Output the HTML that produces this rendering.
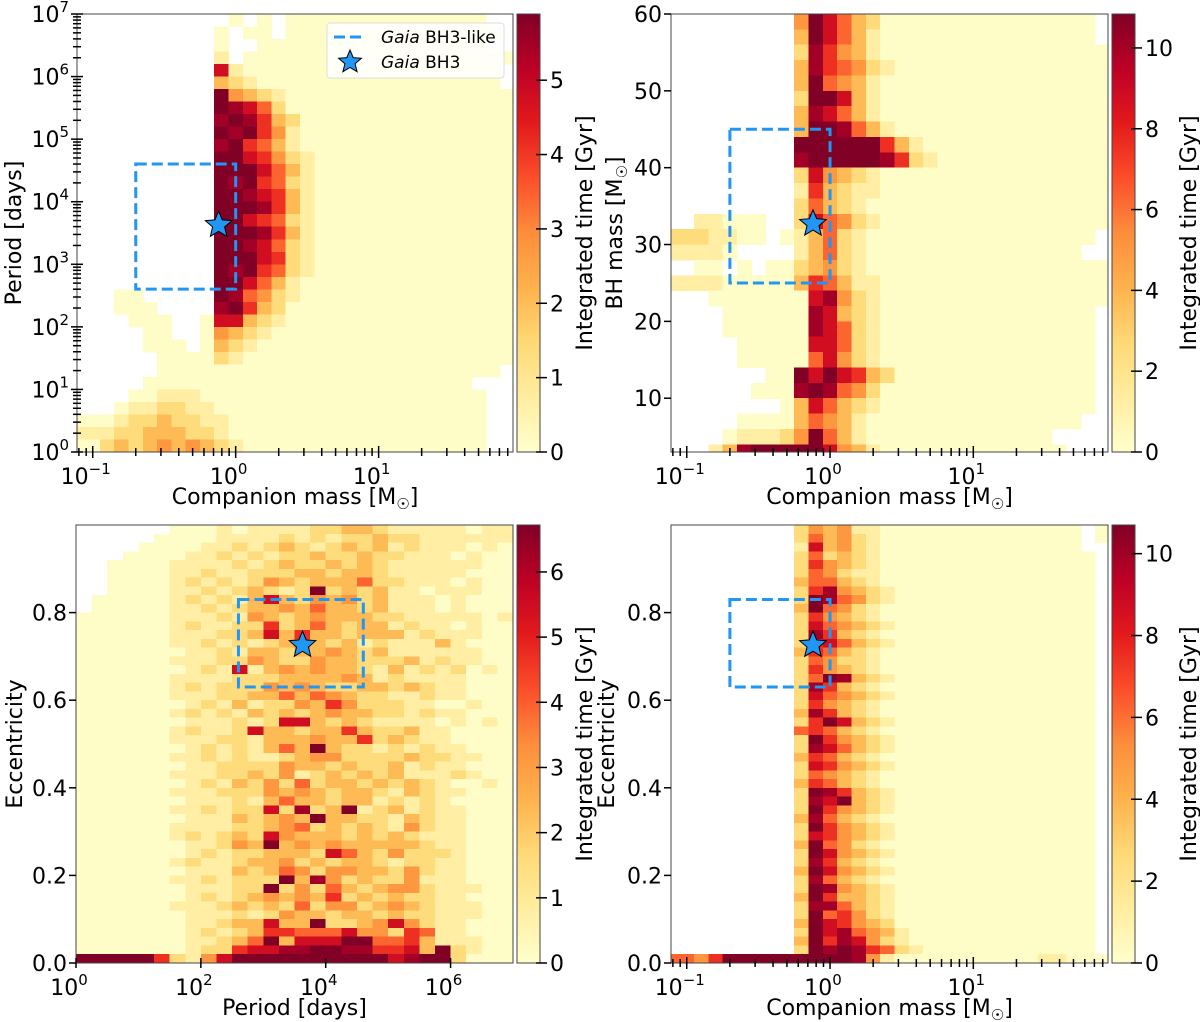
<!DOCTYPE html>
<html><head><meta charset="utf-8"><style>
html,body{margin:0;padding:0;background:#fff;}
svg{display:block;font-family:"DejaVu Sans","Liberation Sans",sans-serif;}
</style></head><body>
<svg id="fig" width="1200" height="1022" viewBox="0 0 1200 1022" xmlns="http://www.w3.org/2000/svg"></svg>
<script>
// ---------- data: level codes per bin (' ' = empty, '0' = ~0, '1'..'9' = fraction of colour max) ----------
const P1_ROWS=[
"          0 0 00000000000000  ","         0 00 000000000000000 ","         0  0000000000000000  ",
"         1 0000000000000000000","         71000000000000000000 ","         32100000000000000000 ",
"         943210000000000000000","         987520000000000000000","         898632000000000000000",
"         989641000000000000000","         896531000000000000000","         997642100000000000000",
"         999753100000000000000","         989652100000000000000","         998763100000000000000",
"         999863100000000000000","         997652100000000000000","         999863100000000000000",
"         998752100000000000000","         999762100000000000000","         989652100000000000000",
"         997531000000000000000","  00     985421000000000000000","  000    896320000000000000000",
"   000  0773210000000000000000","    00  0432100000000000000000","    000 0321000000000000000000",
"     0000210000000000000000000","     000000000000000000000000 ","    00000000000000000000000   ",
"   0011100000000000000000000  ","  01122110000000000000000000  ","0012232211000000000000000000  ",
"1122333221000000000000000000  ","0232343432100000000000000000  "];
const P2_ROWS=[
"        497532000000000000000 ","        397531000000000000000 ","        2864310000000000000000",
"        3865421000000000000000","        3954310000000000000000","        2997310000000000000000",
"        3875310000000000000000","        3998531000000000000000","        9999996310000000000000",
"        8999998621000000000000","        2743210000000000000000","        1632110000000000000000",
"        2532100000000000000000"," 11000  2754210000000000000000","221100 0135210000000000000000",
"1110    13521000000000000000 "," 00 0 002342100000000000000000","111000003653110000000000000000",
"  0000000784210000000000000000","   00000087321000000000000000 ","   00000087521000000000000000 ",
"    0000077521000000000000000 ","    0000057421000000000000000 ","      00979763200000000000000 ",
"     000898542000000000000000 ","       0375321000000000000000 ","    000035431000000000000000  ",
"   01112495310000000000000    ","  1389999974310000000000000   "];
const P3_ROWS=[
"      0001011112233211111011","     00001111212122322111111","    000011212321232312111010",
"   0000112121223223221110100","  00001111212322323211111100","  00001121122233233211111000",
"  00001212124323335221110100","  00001121232129232311011100"," 000001212137324342311101000",
" 000001121233435332311101000","0000001112143234333221111101","0000001211226235323312110100",
"0000001112237363323331211100","0000001121212353231211131000","0000000112133233432311111100",
"0000001112243224332223121100","0000000121713434332131212010","0000001111222333343121111000",
"0000001212224343223323211000","0000001112233535432211211000","0000000121312243642221100100",
"0000001212132323433221211000","0000000111212773232111101010","0000001211273323363223110000",
"0000001112213334336232110000","0000000121213539322121211000","0000001121211234422223221100",
"0000000112222433232231211000","0000001112232412323231112100","0000000121324252332323210010",
"0000001112224343233213211000","0000000111213533233121210000","0000001121227282391231211000",
"0000000111323439332213211000","0000001111223452323214211000","0000001212327433323232111000",
"0000000112439343433333211000","0000000121223332753242221000","0000001211233423233212211000",
"0000000111323542443324211000","0000001121222938423224111000","0000000111229242532344211100",
"0000000121234343623232211000","0000001112323252442343211100","0000000111212433233232211100",
"0000000112337339223474211000","0000000121236655574426511000","0000000112359377799556311100",
"0000000122677889988667392100","9999962147999999999978992000"];
const P4_ROWS=[
"        24341100000000000000 0","        25342100000000000000 0","        17342100000000000000  ",
"        252321000000000000000 ","        264321000000000000000 ","        254211000000000000000 ",
"        355321000000000000000 ","        268432100000000000000 ","        298542100000000000000 ",
"        395421000000000000000 ","        264321000000000000000 ","        275432100000000000000 ",
"        286321000000000000000 ","        267532100000000000000 ","        365321000000000000000 ",
"        254221000000000000000 ","        264321000000000000000 ","        259832100000000000000 ",
"        286321000000000000000 ","        275432100000000000000 ","        264321000000000000000 ",
"        386321000000000000000 ","        269732100000000000000 ","        565321000000000000000 ",
"        296432100000000000000 ","        287532100000000000000 ","        365321000000000000000 ",
"        276432100000000000000 ","        254321000000000000000 ","        365321000000000000000 ",
"        298632100000000000000 ","        287932100000000000000 ","        296432100000000000000 ",
"        385321000000000000000 ","        296432100000000000000 ","        276432100000000000000 ",
"        395421000000000000000 ","        297432100000000000000 ","        286321000000000000000 ",
"        397432100000000000000 ","        285321000000000000000 ","        298432100000000000000 ",
"        396332100000000000000 ","        288532100000000000000 ","        295642100000000000000 ",
"        397643200000000000000 ","        297854310000000000000 ","        396874210000000000000 ",
"        298986521000000000000 ","546999999999841000000000011000"];
const CB_MAX=[5.89,10.84,6.72,10.7];
const CB_TICKS=[[0,1,2,3,4,5],[0,2,4,6,8,10],[0,1,2,3,4,5,6],[0,2,4,6,8,10]];
const BH3_MASS=0.76, BH3_PERIOD=4250, BH3_MBH=32.7, BH3_ECC=0.726;
const BOX_MASS=[0.2,1.0], BOX_PERIOD=[400,40000], BOX_MBH=[25,45], BOX_ECC=[0.63,0.83];

const CMAP=['#ffffcc','#ffeda0','#fed976','#feb24c','#fd8d3c','#fc4e2a','#e31a1c','#bd0026','#800026'];
function hex(h){return [1,3,5].map(i=>parseInt(h.substr(i,2),16));}
function cmap(f){f=Math.max(0,Math.min(1,f));const t=f*(CMAP.length-1);const i=Math.min(Math.floor(t),CMAP.length-2);const u=t-i;
 const a=hex(CMAP[i]),b=hex(CMAP[i+1]);return 'rgb('+a.map((v,k)=>Math.round(v+(b[k]-v)*u)).join(',')+')';}

const NS='http://www.w3.org/2000/svg';
const svg=document.getElementById('fig');
function el(tag,attrs,parent){const e=document.createElementNS(NS,tag);for(const k in attrs)e.setAttribute(k,attrs[k]);(parent||svg).appendChild(e);return e;}
const BLUE='#2196f3';
const FS=22;

function lin(d0,d1,r0,r1){return v=>r0+(v-d0)/(d1-d0)*(r1-r0);}
function logs(d0,d1,r0,r1){return v=>r0+(Math.log10(v)-d0)/(d1-d0)*(r1-r0);}

const panels=[
 {id:'mass-period',L:77,R:513,T:14,B:452,xlog:[-1.11,1.94],ylog:[0,7],rows:P1_ROWS,x0:-1.05,xw:0.1,ytop:7,yh:0.2,cb:[517,540],cbi:0,ytx:21,cbt:52},
 {id:'mass-bhmass',L:671,R:1108,T:14,B:452,xlog:[-1.11,1.94],ylin:[3,60],rows:P2_ROWS,x0:-1.05,xw:0.1,ytop:60,yh:2,cb:[1112,1135],cbi:1,ytx:622,cbt:61},
 {id:'period-ecc',L:76,R:513,T:525,B:963,xlog:[0,7],ylin:[0,1],rows:P3_ROWS,x0:0,xw:0.25,ytop:1,yh:0.02,cb:[517,540],cbi:2,ytx:22,cbt:52},
 {id:'mass-ecc',L:671,R:1108,T:525,B:963,xlog:[-1.11,1.94],ylin:[0,1],rows:P4_ROWS,x0:-1.05,xw:0.1,ytop:1,yh:0.02,cb:[1112,1135],cbi:3,ytx:614,cbt:61}
];

function starPath(cx,cy,R){const r=R*0.45;let d='';for(let i=0;i<10;i++){const a=-Math.PI/2+i*Math.PI/5;const rr=i%2?r:R;d+=(i?'L':'M')+(cx+rr*Math.cos(a)).toFixed(1)+','+(cy+rr*Math.sin(a)).toFixed(1);}return d+'Z';}

function sup(g,x,y,base,exp,anchor,name){
 const t=el('text',{x:x,y:y,'font-size':FS,'text-anchor':anchor,fill:'#000'},g);
 
 
 t.appendChild(document.createTextNode(base));
 const s=el('tspan',{dy:-10,'font-size':15},t);s.textContent=exp;return t;}

panels.forEach((p,pi)=>{
 const g=el('g',{});
 
 
 const sx=logs(p.xlog[0],p.xlog[1],p.L,p.R);
 const sxl=v=>p.L+(v-p.xlog[0])/(p.xlog[1]-p.xlog[0])*(p.R-p.L);
 let syv, sybin;
 if(p.ylog){syv=logs(p.ylog[0],p.ylog[1],p.B,p.T);sybin=v=>p.B+(v-p.ylog[0])/(p.ylog[1]-p.ylog[0])*(p.T-p.B);}
 else{syv=lin(p.ylin[0],p.ylin[1],p.B,p.T);sybin=syv;}
 const cp=el('clipPath',{id:'clip'+pi},g);el('rect',{x:p.L,y:p.T,width:p.R-p.L,height:p.B-p.T},cp);
 const hg=el('g',{'clip-path':'url(#clip'+pi+')','shape-rendering':'crispEdges'},g);
 
 
 p.rows.forEach((row,r)=>{
  for(let c=0;c<row.length;c++){
   const ch=row[c];if(ch===' ')continue;
   const f=ch==='0'?0.015:(+ch)/8.6;
   const xa=c===0?p.L:sxl(p.x0+c*p.xw), xb=sxl(p.x0+(c+1)*p.xw);
   const ya=sybin(p.ytop-r*p.yh), yb=sybin(p.ytop-(r+1)*p.yh);
   const cell=el('rect',{x:xa.toFixed(2),y:ya.toFixed(2),width:(xb-xa+0.6).toFixed(2),height:(yb-ya+0.6).toFixed(2),fill:cmap(f)},hg);
   
   
  }
 });
 let bx0,bx1,by0,by1,stx,sty;
 if(pi===2){bx0=sx(BOX_PERIOD[0]);bx1=sx(BOX_PERIOD[1]);stx=sx(BH3_PERIOD);}
 else{bx0=sx(BOX_MASS[0]);bx1=sx(BOX_MASS[1]);stx=sx(BH3_MASS);}
 if(pi===0){by0=syv(BOX_PERIOD[1]);by1=syv(BOX_PERIOD[0]);sty=syv(BH3_PERIOD);}
 else if(pi===1){by0=syv(BOX_MBH[1]);by1=syv(BOX_MBH[0]);sty=syv(BH3_MBH);}
 else{by0=syv(BOX_ECC[1]);by1=syv(BOX_ECC[0]);sty=syv(BH3_ECC);}
 const box=el('rect',{x:bx0,y:by0,width:bx1-bx0,height:by1-by0,fill:'none',stroke:BLUE,'stroke-width':3,'stroke-dasharray':'11,5'},g);
 
 
 const st=el('path',{d:starPath(stx,sty,14),fill:BLUE,stroke:'#000','stroke-width':1},g);
 
 
 const fr=el('rect',{x:p.L,y:p.T,width:p.R-p.L,height:p.B-p.T,fill:'none',stroke:'#444','stroke-width':1},g);
 
 
 const xg=el('g',{stroke:'#000','stroke-width':1.5},g);
 
 
 if(pi===2){
  [0,2,4,6].forEach(e=>{const x=sx(Math.pow(10,e));el('line',{x1:x,x2:x,y1:p.B-5,y2:p.B+5},xg);
   sup(g,x-7,p.B+32,'10',String(e),'middle','x-tick-label');});
 } else {
  for(let d=-2;d<=1;d++)for(let k=1;k<=9;k++){const v=k*Math.pow(10,d);const lv=Math.log10(v);if(lv<p.xlog[0]||lv>p.xlog[1])continue;
   const len=k===1?6:4;el('line',{x1:sx(v),x2:sx(v),y1:p.B-len,y2:p.B+len},xg);}
  [[-1,'\u22121'],[0,'0'],[1,'1']].forEach(([e,s])=>{sup(g,sx(Math.pow(10,e))-7,p.B+32,'10',s,'middle','x-tick-label');});
 }
 const yg=el('g',{stroke:'#000','stroke-width':1.5},g);
 
 
 if(pi===0){
  for(let d=0;d<=6;d++)for(let k=2;k<=9;k++){const y=syv(k*Math.pow(10,d));el('line',{x1:p.L-4,x2:p.L+4,y1:y,y2:y},yg);}
  for(let e=0;e<=7;e++){const y=syv(Math.pow(10,e));el('line',{x1:p.L-6,x2:p.L+6,y1:y,y2:y},yg);
   sup(g,p.L-8,y+8,'10',String(e),'end','y-tick-label');}
 } else {
  const vals=pi===1?[10,20,30,40,50,60]:[0,0.2,0.4,0.6,0.8];
  vals.forEach(v=>{const y=syv(v);el('line',{x1:p.L-7,x2:p.L,y1:y,y2:y},yg);
   const t=el('text',{x:p.L-9,y:y+8,'font-size':FS,'text-anchor':'end',fill:'#000',stroke:'none'},g);
   
   
   t.textContent=pi===1?String(v):v.toFixed(1);});
 }
 const cx=(p.L+p.R)/2, cy=(p.T+p.B)/2;
 const xl=el('text',{x:cx,y:p.B+52,'font-size':FS,'text-anchor':'middle',fill:'#000'},g);
 
 
 if(pi===2){xl.textContent='Period [days]';}
 else{xl.appendChild(document.createTextNode('Companion mass [M'));const s=el('tspan',{dy:5,'font-size':15},xl);s.textContent='\u2609';const s2=el('tspan',{dy:-5},xl);s2.textContent=']';}
 const yl=el('text',{x:0,y:0,'font-size':FS,'text-anchor':'middle',fill:'#000',transform:'translate('+p.ytx+','+cy+') rotate(-90)'},g);
 
 
 if(pi===0)yl.textContent='Period [days]';
 else if(pi===1){yl.appendChild(document.createTextNode('BH mass [M'));const s=el('tspan',{dy:5,'font-size':15},yl);s.textContent='\u2609';const s2=el('tspan',{dy:-5},yl);s2.textContent=']';}
 else yl.textContent='Eccentricity';
 const cbg=el('g',{},g);
 
 
 const gid='grad'+pi;const lg=el('linearGradient',{id:gid,x1:0,y1:1,x2:0,y2:0},cbg);
 CMAP.forEach((c,i)=>el('stop',{offset:i/(CMAP.length-1),'stop-color':c},lg));
 el('rect',{x:p.cb[0],y:p.T,width:p.cb[1]-p.cb[0],height:p.B-p.T,fill:'url(#'+gid+')',stroke:'#444','stroke-width':1},cbg);
 const vmax=CB_MAX[p.cbi];
 CB_TICKS[p.cbi].forEach(v=>{const y=p.B-(v/vmax)*(p.B-p.T);
  el('line',{x1:p.cb[1]-4,x2:p.cb[1]+7,y1:y,y2:y,stroke:'#000','stroke-width':1.5},cbg);
  const t=el('text',{x:p.cb[1]+10,y:y+8,'font-size':FS,fill:'#000'},cbg);
  
  
  t.textContent=String(v);});
 const ct=el('text',{x:0,y:0,'font-size':FS,'text-anchor':'middle',fill:'#000',transform:'translate('+(p.cb[1]+p.cbt)+','+cy+') rotate(-90)'},cbg);
 
 
 ct.textContent='Integrated time [Gyr]';
});

const lg=el('g',{});


el('rect',{x:327,y:23,width:177,height:55,rx:3,fill:'#fff','fill-opacity':0.85,stroke:'#ddd'},lg);
const ll=el('line',{x1:334,x2:366,y1:37,y2:37,stroke:BLUE,'stroke-width':3,'stroke-dasharray':'11,5'},lg);


const lt1=el('text',{x:381,y:43,'font-size':17,fill:'#000'},lg);


el('tspan',{'font-style':'italic'},lt1).textContent='Gaia';lt1.appendChild(document.createTextNode(' BH3-like'));
const ls=el('path',{d:starPath(350,62,12),fill:BLUE,stroke:'#000','stroke-width':1},lg);


const lt2=el('text',{x:381,y:68,'font-size':17,fill:'#000'},lg);


el('tspan',{'font-style':'italic'},lt2).textContent='Gaia';lt2.appendChild(document.createTextNode(' BH3'));
</script>
</body></html>
